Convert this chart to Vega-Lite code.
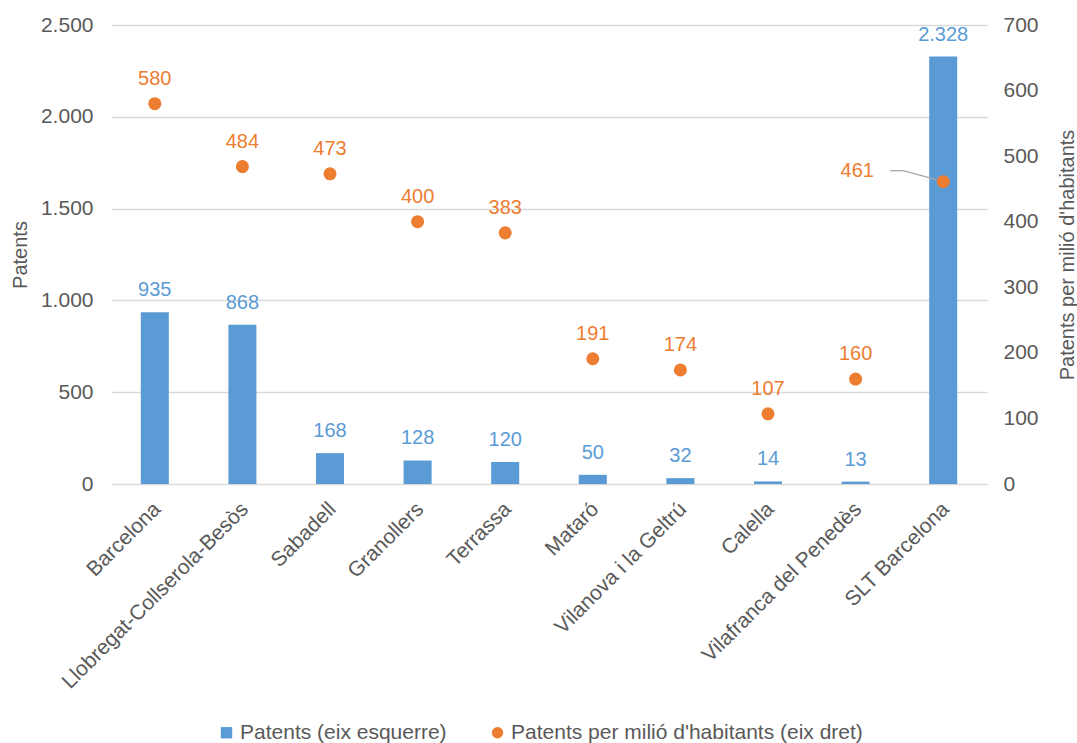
{
  "$schema": "https://vega.github.io/schema/vega-lite/v6.json",
  "width": 876,
  "height": 459,
  "autosize": {"type": "none"},
  "padding": {"left": 111, "top": 25, "right": 90, "bottom": 259},
  "background": "white",
  "config": {
    "font": "Liberation Sans",
    "view": {"stroke": null},
    "locale": {"number": {"decimal": ",", "thousands": ".", "grouping": [3], "currency": ["", " €"]}},
    "axis": {"labelFont": "Liberation Sans", "titleFont": "Liberation Sans", "labelColor": "#595959", "titleColor": "#595959", "labelFontSize": 21, "titleFontSize": 20, "titleFontWeight": "normal"}
  },
  "data": {"values": [
    {"zona": "Barcelona", "patents": 935, "permilio": 580},
    {"zona": "Llobregat-Collserola-Besòs", "patents": 868, "permilio": 484},
    {"zona": "Sabadell", "patents": 168, "permilio": 473},
    {"zona": "Granollers", "patents": 128, "permilio": 400},
    {"zona": "Terrassa", "patents": 120, "permilio": 383},
    {"zona": "Mataró", "patents": 50, "permilio": 191},
    {"zona": "Vilanova i la Geltrú", "patents": 32, "permilio": 174},
    {"zona": "Calella", "patents": 14, "permilio": 107},
    {"zona": "Vilafranca del Penedès", "patents": 13, "permilio": 160},
    {"zona": "SLT Barcelona", "patents": 2328, "permilio": 461}
  ]},
  "encoding": {
    "x": {
      "field": "zona", "type": "nominal", "sort": null, "title": null,
      "scale": {"paddingInner": 0.68, "paddingOuter": 0.34},
      "axis": {"labelAngle": -45, "labelAlign": "right", "labelBaseline": "top", "labelPadding": 14, "labelOffset": -5, "ticks": false, "domain": false, "labelFontSize": 21, "labelLimit": 400}
    }
  },
  "layer": [
    {
      "encoding": {
        "y": {"field": "patents", "type": "quantitative", "scale": {"domain": [0, 2500]},
          "axis": {"title": "Patents", "values": [0, 500, 1000, 1500, 2000, 2500], "format": ",d", "ticks": false, "domain": false, "labelPadding": 18, "titlePadding": 10, "gridColor": "#d9d9d9", "gridWidth": 1.3}}
      },
      "layer": [
        {
          "mark": {"type": "bar", "color": "#5B9BD5"},
          "encoding": {"color": {"datum": "Patents (eix esquerre)", "type": "nominal",
            "scale": {"domain": ["Patents (eix esquerre)", "Patents per milió d'habitants (eix dret)"], "range": ["#5B9BD5", "#ED7D31"]},
            "legend": {"title": null, "orient": "none", "legendX": 105, "legendY": 697, "padding": 0, "direction": "horizontal", "labelFontSize": 21, "labelColor": "#595959", "labelFont": "Liberation Sans", "symbolSize": 130, "labelOffset": 3, "columnPadding": 40, "labelLimit": 600,
              "encode": {"symbols": {"update": {"shape": {"signal": "datum.value === 'Patents (eix esquerre)' ? 'square' : 'circle'"}, "strokeWidth": {"value": 0}}}}}}}
        },
        {
          "mark": {"type": "text", "color": "#5B9BD5", "fontSize": 20, "baseline": "bottom", "dy": -12},
          "encoding": {"text": {"field": "patents", "type": "quantitative", "format": ",d"}}
        }
      ]
    },
    {
      "encoding": {
        "y": {"field": "permilio", "type": "quantitative", "scale": {"domain": [0, 700]},
          "axis": {"orient": "right", "title": "Patents per milió d'habitants", "titleAngle": -90, "titleBaseline": "top", "values": [0, 100, 200, 300, 400, 500, 600, 700], "grid": false, "ticks": false, "domain": false, "labelPadding": 16, "titlePadding": 19}}
      },
      "layer": [
        {
          "mark": {"type": "point", "filled": true, "opacity": 1, "size": 170, "shape": "circle"},
          "encoding": {"color": {"datum": "Patents per milió d'habitants (eix dret)", "type": "nominal"}}
        },
        {
          "transform": [{"filter": "datum.zona !== 'SLT Barcelona'"}],
          "mark": {"type": "text", "color": "#ED7D31", "fontSize": 20, "baseline": "bottom", "dy": -15},
          "encoding": {"text": {"field": "permilio", "type": "quantitative"}}
        },
        {
          "transform": [{"filter": "datum.zona === 'SLT Barcelona'"}],
          "mark": {"type": "text", "color": "#ED7D31", "fontSize": 20, "baseline": "middle", "align": "center", "dx": -86, "dy": -11},
          "encoding": {"text": {"field": "permilio", "type": "quantitative"}}
        },
        {
          "transform": [{"filter": "datum.zona === 'SLT Barcelona'"}],
          "mark": {"type": "rule", "color": "#a6a6a6", "strokeWidth": 1.3, "xOffset": -53, "yOffset": -11, "x2Offset": -40, "y2Offset": -11},
          "encoding": {"x2": {"field": "zona"}, "y2": {"field": "permilio"}}
        },
        {
          "transform": [{"filter": "datum.zona === 'SLT Barcelona'"}],
          "mark": {"type": "rule", "color": "#a6a6a6", "strokeWidth": 1.3, "xOffset": -40, "yOffset": -11, "x2Offset": -7, "y2Offset": -2},
          "encoding": {"x2": {"field": "zona"}, "y2": {"field": "permilio"}}
        }
      ]
    }
  ],
  "resolve": {"scale": {"y": "independent"}}
}
